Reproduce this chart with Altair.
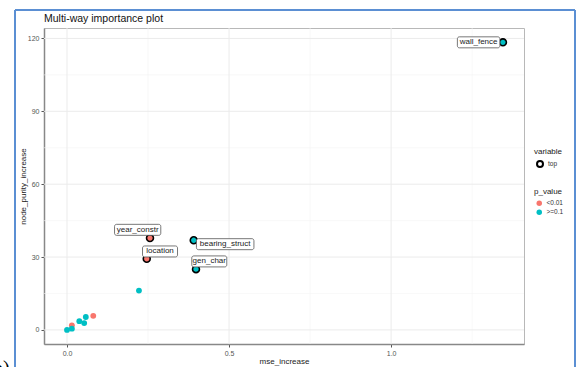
import altair as alt
import pandas as pd

# ---- data ----
variables = ["wall_fence", "year_constr", "location", "bearing_struct", "gen_char",
             "v6", "v7", "v8", "v9", "v10", "v11", "v12", "v13"]
mse_increase = [1.345, 0.256, 0.246, 0.391, 0.398, 0.222, 0.081, 0.058, 0.053, 0.038, 0.015, 0.015, 0.0]
node_purity_increase = [118.4, 37.8, 29.3, 36.9, 25.0, 16.2, 5.8, 5.3, 2.8, 3.6, 1.9, 0.5, 0.0]
p_value = [">=0.1", "<0.01", "<0.01", ">=0.1", ">=0.1", ">=0.1", "<0.01",
           ">=0.1", ">=0.1", ">=0.1", "<0.01", ">=0.1", ">=0.1"]
is_top = [True, True, True, True, True, False, False, False, False, False, False, False, False]

# repelled label anchor positions (data units), as placed in the picture
label_names = ["wall_fence", "year_constr", "location", "bearing_struct", "gen_char"]
label_x = [1.27, 0.218, 0.287, 0.488, 0.439]
label_y = [118.4, 41.2, 32.3, 35.3, 28.2]

x_major = [0.0, 0.5, 1.0]
y_major = [0, 30, 60, 90, 120]
x_minor = [0.25, 0.75, 1.25]
y_minor = [15, 45, 75, 105]

p_levels = ["<0.01", ">=0.1"]
p_colors = ["#F8766D", "#00BFC4"]

# ---- layout ----
W, H = 480, 316
x_dom = [-0.071, 1.41]
y_dom = [-5.8, 124.3]
px_per_x = W / (x_dom[1] - x_dom[0])
px_per_y = H / (y_dom[1] - y_dom[0])

df = pd.DataFrame({
    "variable_name": variables,
    "mse_increase": mse_increase,
    "node_purity_increase": node_purity_increase,
    "p_value": p_value,
    "top": is_top,
})
df["variable"] = "top"

char_px = 3.75
pad_px = 2.5
box_h_px = 11
lab = pd.DataFrame({"name": label_names, "lx": label_x, "ly": label_y})
half_w = (lab["name"].str.len() * char_px / 2 + pad_px) / px_per_x
half_h = (box_h_px / 2) / px_per_y
lab["x1"] = lab["lx"] - half_w
lab["x2"] = lab["lx"] + half_w
lab["y1"] = lab["ly"] - half_h
lab["y2"] = lab["ly"] + half_h

xs = alt.Scale(domain=x_dom, nice=False, zero=False)
ys = alt.Scale(domain=y_dom, nice=False, zero=False)

x_axis = alt.Axis(values=x_major, format=".1f", title="mse_increase", grid=False)
y_axis = alt.Axis(values=y_major, format="d", title="node_purity_increase", grid=False)

grid_x_major = alt.Chart(pd.DataFrame({"g": x_major})).mark_rule(
    color="#ebebeb", strokeWidth=1).encode(x=alt.X("g:Q", scale=xs, axis=x_axis))
grid_x_minor = alt.Chart(pd.DataFrame({"g": x_minor})).mark_rule(
    color="#f3f3f3", strokeWidth=0.6).encode(x=alt.X("g:Q", scale=xs))
grid_y_major = alt.Chart(pd.DataFrame({"g": y_major})).mark_rule(
    color="#ebebeb", strokeWidth=1).encode(y=alt.Y("g:Q", scale=ys, axis=y_axis))
grid_y_minor = alt.Chart(pd.DataFrame({"g": y_minor})).mark_rule(
    color="#f3f3f3", strokeWidth=0.6).encode(y=alt.Y("g:Q", scale=ys))

fill_legend = alt.Legend(title="p_value", orient="none", legendX=490, legendY=160,
                         symbolType="circle", symbolSize=30, symbolStrokeWidth=0,
                         titleFontSize=8, labelFontSize=6.5, titleFontWeight="normal",
                         titleColor="#222", labelColor="#333", rowPadding=2,
                         titlePadding=4, symbolOffset=2)
fill_enc = alt.Fill("p_value:N", scale=alt.Scale(domain=p_levels, range=p_colors),
                    legend=fill_legend)

pts_other = alt.Chart(df).transform_filter("!datum.top").mark_circle(
    size=34, opacity=1).encode(
    x=alt.X("mse_increase:Q", scale=xs),
    y=alt.Y("node_purity_increase:Q", scale=ys),
    fill=fill_enc,
)

pts_top = alt.Chart(df).transform_filter("datum.top").mark_point(
    filled=False, size=48, strokeWidth=1.6, opacity=1, fillOpacity=1).encode(
    x=alt.X("mse_increase:Q", scale=xs),
    y=alt.Y("node_purity_increase:Q", scale=ys),
    color=alt.Color("variable:N", scale=alt.Scale(domain=["top"], range=["black"]),
                    legend=alt.Legend(title="variable", orient="none", legendX=490, legendY=120,
                                      symbolType="circle", symbolSize=36,
                                      symbolStrokeWidth=2, symbolFillColor="white",
                                      titleFontSize=8, labelFontSize=6.5,
                                      titleFontWeight="normal", titleColor="#222",
                                      labelColor="#333", titlePadding=4, symbolOffset=2)),
    fill=fill_enc,
)

boxes = alt.Chart(lab).mark_rect(
    fill="white", stroke="#555", strokeWidth=0.8, cornerRadius=2).encode(
    x=alt.X("x1:Q", scale=xs), x2="x2:Q",
    y=alt.Y("y1:Q", scale=ys), y2="y2:Q",
)
texts = alt.Chart(lab).mark_text(
    fontSize=8, color="#222", font="Liberation Sans", baseline="middle", align="center").encode(
    x=alt.X("lx:Q", scale=xs), y=alt.Y("ly:Q", scale=ys), text="name:N")

# decorative document frame and caption fragment around the screenshot
frame_color = "#5B8FD3"
frame_left = alt.Chart(pd.DataFrame({"a": [0]})).mark_rule(color=frame_color, strokeWidth=2).encode(
    x=alt.value(-29), y=alt.value(-18), y2=alt.value(345))
frame_top = alt.Chart(pd.DataFrame({"a": [0]})).mark_rule(color=frame_color, strokeWidth=2).encode(
    x=alt.value(-29), x2=alt.value(531), y=alt.value(-18))
frame_right = alt.Chart(pd.DataFrame({"a": [0]})).mark_rule(color=frame_color, strokeWidth=2).encode(
    x=alt.value(531), y=alt.value(-18), y2=alt.value(345))
caption = alt.Chart(pd.DataFrame({"t": ["b)"]})).mark_text(
    fontSize=20, font="Liberation Serif", color="black", align="left", baseline="alphabetic").encode(
    x=alt.value(-51), y=alt.value(347), text="t:N")

chart = alt.layer(
    grid_x_minor, grid_y_minor, grid_x_major, grid_y_major,
    pts_other, pts_top, boxes, texts,
    frame_left, frame_top, frame_right, caption,
).resolve_scale(fill="shared").properties(
    width=W, height=H,
    title=alt.Title("Multi-way importance plot", anchor="start", fontSize=10.5,
                    fontWeight="normal", color="#111", font="Liberation Sans", offset=-15,
                    frame="group"),
    autosize=alt.AutoSizeParams(type="none"),
    padding={"left": 44, "top": 28, "right": 57, "bottom": 23},
).configure_view(stroke="#b8b8b8", strokeWidth=1).configure_axis(
    labelFontSize=7, labelColor="#555", titleFontSize=8, titleColor="#222",
    titleFontWeight="normal", tickSize=3, tickColor="#555", domainColor="#888",
    domainWidth=1.5, labelFont="Liberation Sans", titleFont="Liberation Sans",
    labelPadding=2,
).configure_axisX(titlePadding=1).configure_axisY(titlePadding=0).configure_legend(
    labelFont="Liberation Sans", titleFont="Liberation Sans")

chart.save("out.html", embed_options={"renderer": "svg", "actions": False})
